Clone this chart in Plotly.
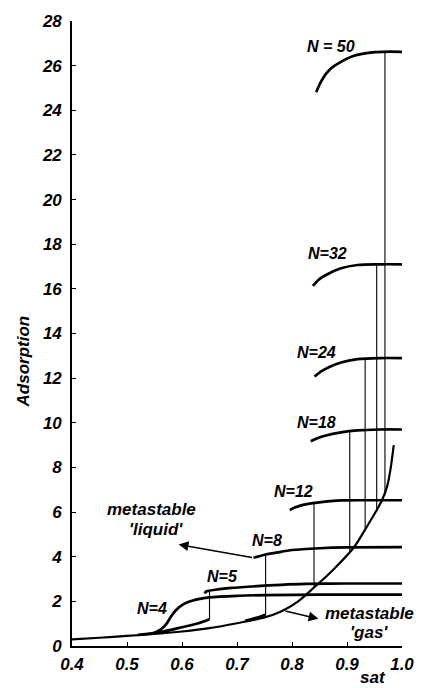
import plotly.graph_objects as go

# ---------------- data ----------------
gas_x = [0.40, 0.45, 0.50, 0.55, 0.60, 0.65, 0.70, 0.75, 0.78, 0.81, 0.84, 0.875, 0.912, 0.935, 0.952, 0.964, 0.973, 0.979, 0.985]
gas_y = [0.30, 0.37, 0.45, 0.54, 0.65, 0.80, 1.02, 1.28, 1.55, 1.98, 2.62, 3.42, 4.40, 5.30, 6.00, 6.55, 7.15, 7.90, 9.00]

n4_x = [0.55, 0.562, 0.572, 0.58, 0.588, 0.598, 0.61, 0.63, 0.65, 0.70, 0.75, 0.85, 1.0]
n4_y = [0.60, 0.75, 1.00, 1.32, 1.58, 1.80, 1.96, 2.10, 2.18, 2.25, 2.28, 2.30, 2.30]

n5_gas_x = [0.52, 0.56, 0.60, 0.63, 0.65]
n5_gas_y = [0.50, 0.62, 0.84, 1.02, 1.20]
n5_x = [0.641, 0.645, 0.66, 0.69, 0.736, 0.78, 0.825, 0.90, 1.0]
n5_y = [2.36, 2.45, 2.52, 2.60, 2.68, 2.74, 2.78, 2.80, 2.80]

n8_gas_x = [0.715, 0.735, 0.752]
n8_gas_y = [1.13, 1.26, 1.40]
n8_x = [0.73, 0.752, 0.78, 0.80, 0.85, 0.90, 1.0]
n8_y = [3.95, 4.10, 4.22, 4.30, 4.38, 4.42, 4.43]

n12_x = [0.796, 0.805, 0.82, 0.838, 0.86, 0.89, 0.93, 1.0]
n12_y = [6.09, 6.20, 6.32, 6.40, 6.47, 6.52, 6.53, 6.53]

n18_x = [0.834, 0.845, 0.86, 0.889, 0.919, 0.96, 1.0]
n18_y = [9.17, 9.30, 9.42, 9.57, 9.66, 9.70, 9.70]

n24_x = [0.841, 0.853, 0.866, 0.889, 0.919, 0.96, 1.0]
n24_y = [12.07, 12.30, 12.48, 12.70, 12.85, 12.90, 12.90]

n32_x = [0.838, 0.848, 0.86, 0.889, 0.919, 0.96, 1.0]
n32_y = [16.13, 16.40, 16.60, 16.92, 17.07, 17.10, 17.10]

n50_x = [0.844, 0.849, 0.855, 0.862, 0.872, 0.889, 0.913, 0.942, 0.965, 1.0]
n50_y = [24.81, 25.10, 25.38, 25.64, 25.90, 26.17, 26.44, 26.58, 26.62, 26.62]

# transitions (vertical jumps)
trans_x = [0.65, 0.752, 0.84, 0.905, 0.933, 0.954, 0.969]
trans_lo = [1.20, 1.40, 2.62, 4.20, 5.20, 6.05, 6.75]
trans_hi = [2.45, 4.10, 6.40, 9.68, 12.90, 17.10, 26.62]

labels = ["N = 50", "N=32", "N=24", "N=18", "N=12", "N=8", "N=5", "N=4"]
label_x = [0.870, 0.865, 0.845, 0.844, 0.803, 0.754, 0.673, 0.546]
label_y = [26.85, 17.57, 13.15, 10.00, 6.90, 4.72, 3.13, 1.68]

x_ticks = [0.4, 0.5, 0.6, 0.7, 0.8, 0.9, 1.0]
x_ticktext = ["0.4", "0.5", "0.6", "0.7", "0.8", "0.9", "1.0"]
y_ticks = list(range(0, 29, 2))

# ---------------- figure ----------------
fig = go.Figure()

def line(x, y, w):
    fig.add_trace(go.Scatter(x=x, y=y, mode="lines",
                             line=dict(color="black", width=w, shape="spline", smoothing=0.8),
                             hoverinfo="skip", showlegend=False))

line(gas_x, gas_y, 2.2)
for xs, ys in [(n4_x, n4_y), (n5_gas_x, n5_gas_y), (n5_x, n5_y), (n8_gas_x, n8_gas_y),
               (n8_x, n8_y), (n12_x, n12_y), (n18_x, n18_y), (n24_x, n24_y),
               (n32_x, n32_y), (n50_x, n50_y)]:
    line(xs, ys, 2.7)

for tx, lo, hi in zip(trans_x, trans_lo, trans_hi):
    fig.add_trace(go.Scatter(x=[tx, tx], y=[lo, hi], mode="lines",
                             line=dict(color="black", width=1.1),
                             hoverinfo="skip", showlegend=False))

lab_font = dict(family="Liberation Sans", size=16, color="black", style="italic", weight="bold")
txt_font = dict(family="Liberation Sans", size=17, color="black", style="italic", weight="bold")
for t, lx, ly in zip(labels, label_x, label_y):
    fig.add_annotation(x=lx, y=ly, text=t, showarrow=False, font=lab_font,
                       xanchor="center", yanchor="middle")

# metastable liquid
fig.add_annotation(x=0.544, y=6.1, text="metastable", showarrow=False, font=txt_font)
fig.add_annotation(x=0.552, y=5.2, text="'liquid'", showarrow=False, font=txt_font)
fig.add_annotation(x=0.594, y=4.55, ax=0.73, ay=3.95, axref="x", ayref="y",
                   xref="x", yref="y", text="", showarrow=True,
                   arrowhead=2, arrowsize=1.3, arrowwidth=1.5, arrowcolor="black")
# metastable gas
fig.add_annotation(x=0.94, y=1.46, text="metastable", showarrow=False, font=txt_font)
fig.add_annotation(x=0.94, y=0.62, text="'gas'", showarrow=False, font=txt_font)
fig.add_annotation(x=0.848, y=1.22, ax=0.785, ay=1.58, axref="x", ayref="y",
                   xref="x", yref="y", text="", showarrow=True,
                   arrowhead=2, arrowsize=1.3, arrowwidth=1.5, arrowcolor="black")

# axis titles
fig.add_annotation(x=0.947, y=-0.05, xref="x", yref="paper", text="sat",
                   showarrow=False, font=txt_font, yanchor="middle")
fig.add_annotation(x=-0.147, y=0.456, xref="paper", yref="paper", text="Adsorption",
                   showarrow=False, font=txt_font, textangle=-90,
                   xanchor="center", yanchor="middle")

tick_font = dict(family="Liberation Sans", size=17, color="black", style="italic", weight="bold")
fig.update_xaxes(range=[0.4, 1.0], tickvals=x_ticks, ticktext=x_ticktext,
                 showline=True, linecolor="black", linewidth=1.6,
                 ticks="inside", ticklen=4, tickwidth=1.4, tickcolor="black",
                 showgrid=False, zeroline=False, tickfont=tick_font,
                 ticklabelstandoff=2)
fig.update_yaxes(range=[0, 28], tickvals=y_ticks,
                 showline=True, linecolor="black", linewidth=1.6,
                 ticks="inside", ticklen=4, tickwidth=1.4, tickcolor="black",
                 showgrid=False, zeroline=False, tickfont=tick_font,
                 ticklabelstandoff=5)

fig.update_layout(width=426, height=688,
                  margin=dict(l=72, r=13, t=12, b=42),
                  plot_bgcolor="white", paper_bgcolor="white",
                  showlegend=False)

fig.write_html("out.html")
